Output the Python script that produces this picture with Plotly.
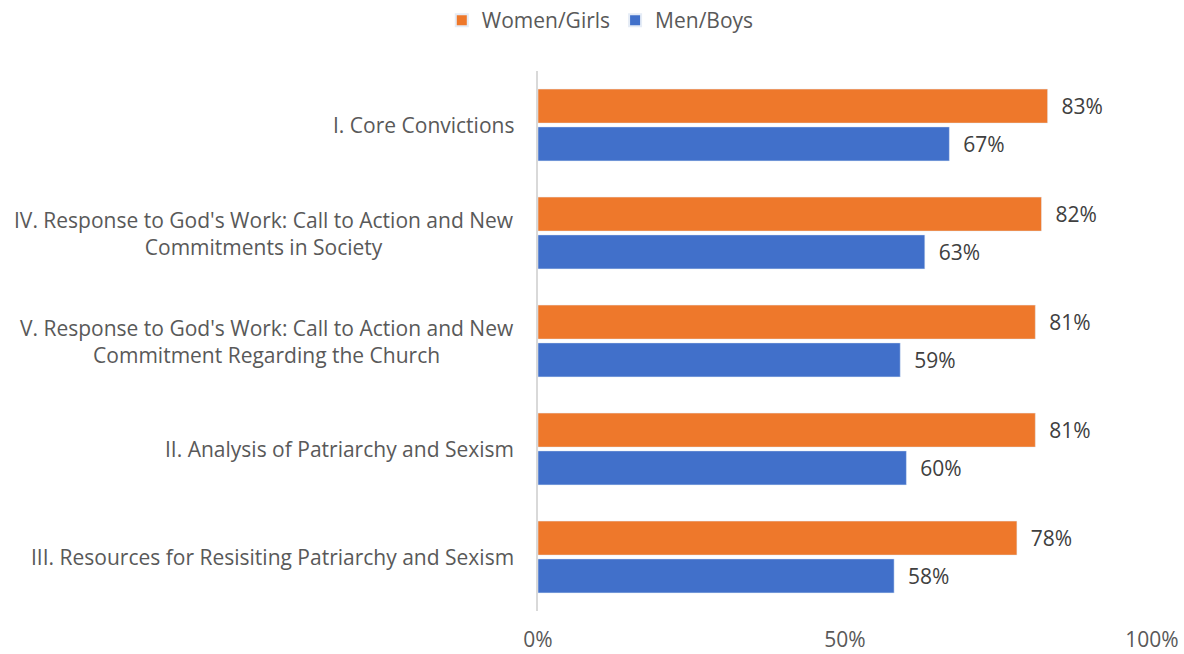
import plotly.graph_objects as go

categories = [
    "I. Core Convictions",
    "IV. Response to God's Work: Call to Action and New<br>Commitments in Society",
    "V. Response to God's Work: Call to Action and New<br>Commitment Regarding the Church",
    "II. Analysis of Patriarchy and Sexism",
    "III. Resources for Resisiting Patriarchy and Sexism",
]
women = [83, 82, 81, 81, 78]
men = [67, 63, 59, 60, 58]
tick_vals = [0, 50, 100]
tick_text = ["0%", "50%", "100%"]

font = "'Open Sans', sans-serif"
NB = "\u00a0\u00a0"
FS = 21

fig = go.Figure()
fig.add_trace(go.Bar(
    y=categories, x=women, orientation="h", name="Women/Girls",
    marker=dict(color="#EE782B"),
    texttemplate=NB + "%{x}%", textposition="outside",
    textfont=dict(color="#404040", size=FS, family=font),
    cliponaxis=False,
))
fig.add_trace(go.Bar(
    y=categories, x=men, orientation="h", name="Men/Boys",
    marker=dict(color="#4170CA"),
    texttemplate=NB + "%{x}%", textposition="outside",
    textfont=dict(color="#404040", size=FS, family=font),
    cliponaxis=False,
))

for cat in categories:
    fig.add_annotation(
        x=0, xref="paper", xanchor="right", xshift=-22,
        y=cat, yref="y", yanchor="middle",
        text=cat, showarrow=False, align="center",
        font=dict(size=FS, color="#595959", family=font),
    )

fig.update_layout(
    width=1184, height=654,
    margin=dict(l=538, r=32, t=71, b=43),
    paper_bgcolor="white", plot_bgcolor="white",
    barmode="group", bargap=0.3, bargroupgap=0.1,
    font=dict(family=font, color="#595959", size=FS),
    legend=dict(orientation="h", x=0.507, xanchor="center", xref="container",
                y=1.0, yanchor="top", yref="container",
                font=dict(size=FS, color="#595959"),
                itemsizing="constant", traceorder="normal"),
    xaxis=dict(range=[0, 100], tickvals=tick_vals, ticktext=tick_text,
               showgrid=False, zeroline=False, showline=False, automargin=False,
               ticks="outside", ticklen=0, ticklabelstandoff=10,
               tickfont=dict(size=FS, color="#595959")),
    yaxis=dict(autorange="reversed", showgrid=False, zeroline=False,
               showline=True, linecolor="#D9D9D9", linewidth=2,
               showticklabels=False, automargin=False),
)

fig.write_html("out.html", config={"displayModeBar": False},
               post_script="document.body.style.margin='0';")
